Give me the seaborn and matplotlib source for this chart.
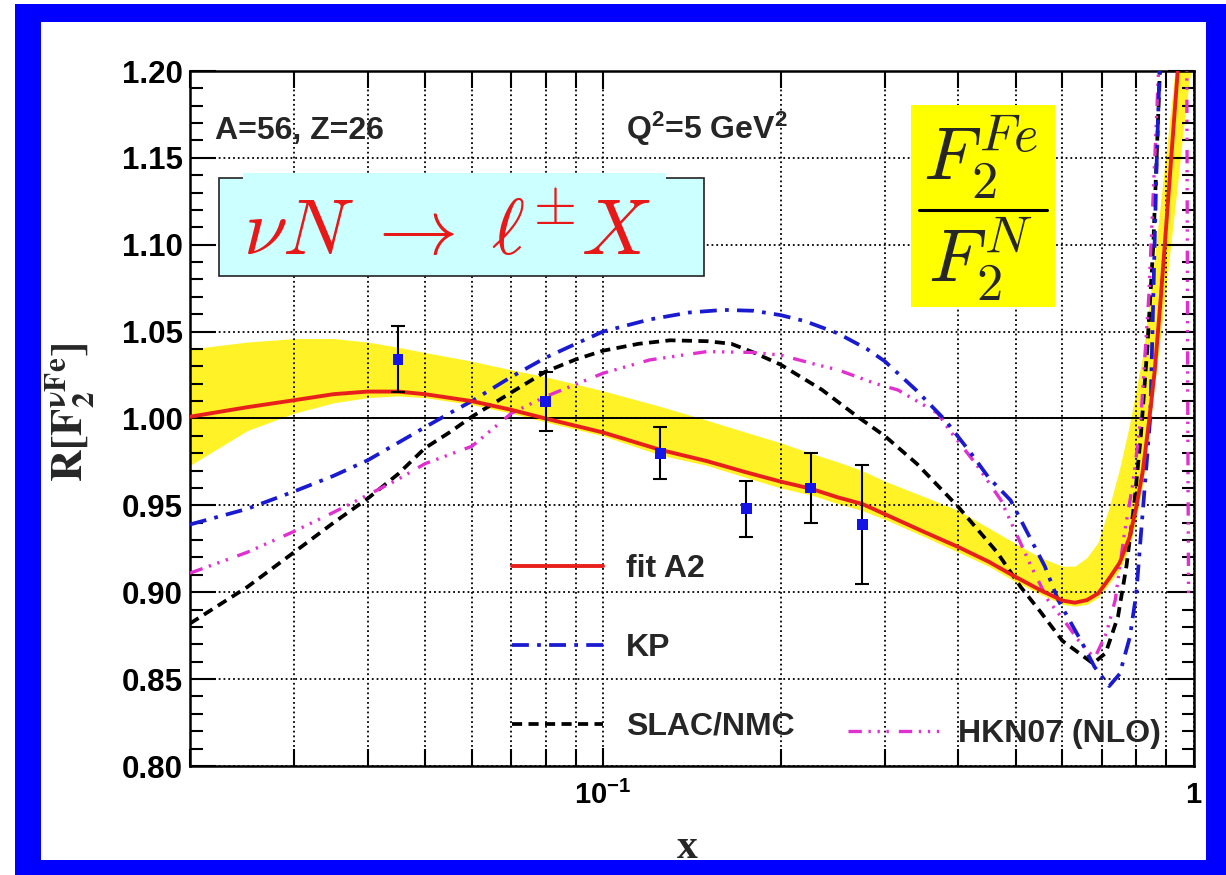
import numpy as np
import pandas as pd
import matplotlib
matplotlib.use("Agg")
import matplotlib.pyplot as plt
import seaborn as sns
from matplotlib.patches import Rectangle
from matplotlib.lines import Line2D
from matplotlib.ticker import (MultipleLocator, FixedLocator, FixedFormatter,
                               LogLocator, NullFormatter, FormatStrFormatter)

# ---------------- data ----------------
x_fit = [0.02, 0.025, 0.03, 0.035, 0.04, 0.045, 0.05, 0.06, 0.07, 0.08, 0.1, 0.125,
         0.15, 0.175, 0.2, 0.225, 0.25, 0.275, 0.3, 0.35, 0.4, 0.45, 0.5, 0.55, 0.6,
         0.63, 0.66, 0.69, 0.72, 0.75, 0.78, 0.8, 0.82, 0.84, 0.86, 0.88, 0.9, 0.92,
         0.94, 0.96, 0.98, 1.0]
y_fit = [1.001, 1.0065, 1.0105, 1.014, 1.0155, 1.0155, 1.014, 1.010, 1.005, 1.000,
         0.992, 0.982, 0.9755, 0.969, 0.9637, 0.9596, 0.9546, 0.9508, 0.945, 0.9347,
         0.926, 0.9176, 0.9088, 0.9013, 0.8952, 0.894, 0.8955, 0.8994, 0.908, 0.917,
         0.932, 0.949, 0.969, 0.997, 1.028, 1.069, 1.113, 1.157, 1.199, 1.24, 1.28, 1.32]
band_hi = [1.040, 1.044, 1.046, 1.046, 1.044, 1.041, 1.038, 1.033, 1.028, 1.024,
           1.016, 1.007, 0.999, 0.992, 0.986, 0.980, 0.975, 0.970, 0.964, 0.955,
           0.947, 0.937, 0.928, 0.920, 0.915, 0.915, 0.920, 0.929, 0.949, 0.9715,
           0.997, 1.017, 1.036, 1.063, 1.094, 1.125, 1.155, 1.185, 1.215, 1.25, 1.29, 1.33]
band_lo = [0.973, 0.993, 1.003, 1.009, 1.012, 1.013, 1.012, 1.008, 1.003, 0.998,
           0.990, 0.979, 0.973, 0.966, 0.960, 0.956, 0.951, 0.947, 0.942, 0.932,
           0.923, 0.915, 0.906, 0.899, 0.893, 0.892, 0.893, 0.897, 0.905, 0.913,
           0.926, 0.942, 0.962, 0.990, 1.020, 1.049, 1.078, 1.107, 1.135, 1.165, 1.19, 1.21]

x_kp = [0.02, 0.025, 0.03, 0.035, 0.04, 0.045, 0.05, 0.055, 0.06, 0.07, 0.08, 0.09,
        0.1, 0.12, 0.14, 0.16, 0.18, 0.2, 0.22, 0.25, 0.28, 0.3, 0.34, 0.38, 0.42,
        0.45, 0.49, 0.56, 0.59, 0.645, 0.68, 0.72, 0.75, 0.78, 0.8, 0.815, 0.832,
        0.845, 0.855, 0.865, 0.876, 0.89]
y_kp = [0.939, 0.948, 0.958, 0.967, 0.976, 0.986, 0.995, 1.003, 1.010, 1.024, 1.035,
        1.043, 1.050, 1.057, 1.061, 1.0625, 1.062, 1.0595, 1.056, 1.049, 1.040, 1.033,
        1.016, 0.999, 0.980, 0.966, 0.953, 0.915, 0.8955, 0.872, 0.857, 0.846, 0.853,
        0.874, 0.899, 0.934, 0.972, 1.001, 1.07, 1.14, 1.2, 1.28]

x_slac = [0.02, 0.025, 0.03, 0.035, 0.04, 0.045, 0.05, 0.055, 0.06, 0.07, 0.08, 0.09,
          0.1, 0.115, 0.13, 0.15, 0.165, 0.18, 0.2, 0.235, 0.27, 0.3, 0.34, 0.4,
          0.465, 0.51, 0.55, 0.6, 0.64, 0.676, 0.71, 0.745, 0.77, 0.795, 0.815,
          0.835, 0.855, 0.875, 0.89]
y_slac = [0.882, 0.903, 0.923, 0.940, 0.954, 0.968, 0.983, 0.992, 1.001, 1.015, 1.027,
          1.034, 1.039, 1.043, 1.045, 1.0445, 1.043, 1.038, 1.031, 1.0165, 1.001,
          0.990, 0.974, 0.949, 0.923, 0.903, 0.889, 0.872, 0.865, 0.859, 0.865, 0.886,
          0.915, 0.953, 0.9915, 1.04, 1.10, 1.19, 1.26]

x_hkn = [0.02, 0.025, 0.03, 0.035, 0.04, 0.045, 0.05, 0.06, 0.07, 0.08, 0.1, 0.12,
         0.15, 0.18, 0.2, 0.23, 0.25, 0.29, 0.316, 0.369, 0.386, 0.43, 0.472, 0.531,
         0.567, 0.6, 0.638, 0.68, 0.712, 0.737, 0.764, 0.79, 0.815, 0.84, 0.86,
         0.875, 0.92, 0.95, 0.974, 0.978, 0.981]
y_hkn = [0.911, 0.923, 0.935, 0.946, 0.956, 0.965, 0.974, 0.984, 1.003, 1.0126,
         1.026, 1.0337, 1.0385, 1.038, 1.0365, 1.031, 1.028, 1.020, 1.0164, 1.003,
         0.9934, 0.973, 0.953, 0.915, 0.8955, 0.885, 0.8725, 0.862, 0.8764, 0.8955,
         0.934, 0.963, 1.001, 1.07, 1.15, 1.21, 1.45, 1.45, 1.22, 1.0, 0.895]

x_data = [0.045, 0.08, 0.125, 0.175, 0.225, 0.275]
y_data = [1.034, 1.010, 0.980, 0.948, 0.960, 0.939]
y_err = [0.019, 0.017, 0.015, 0.016, 0.020, 0.034]

y_ticks = [0.80, 0.85, 0.90, 0.95, 1.00, 1.05, 1.10, 1.15, 1.20]
x_ticks = [0.1, 1.0]
x_ticklabels = ["10$^{-1}$", "1"]
legend_labels = ["fit A2", "KP", "SLAC/NMC", "HKN07 (NLO)"]

# ---------------- style ----------------
sns.set_style("ticks")
plt.rcParams["font.family"] = ["Liberation Sans", "DejaVu Sans"]
plt.rcParams["font.weight"] = "bold"
plt.rcParams["mathtext.fontset"] = "custom"
plt.rcParams["mathtext.rm"] = "Liberation Sans:bold"
plt.rcParams["mathtext.bf"] = "Liberation Sans:bold"
plt.rcParams["mathtext.it"] = "Liberation Sans:italic:bold"

W, H = 1226, 875
fig = plt.figure(figsize=(W / 100, H / 100), dpi=100, facecolor="white")


def fx(px):
    return px / W


def fy(py):
    return 1 - py / H


# blue frame
fig.add_artist(Rectangle((fx(15), fy(875)), fx(1226) - fx(15), fy(4) - fy(875),
                         transform=fig.transFigure, facecolor="#0000ff",
                         edgecolor="none", zorder=-20))
fig.add_artist(Rectangle((fx(41), fy(860)), fx(1206) - fx(41), fy(22) - fy(860),
                         transform=fig.transFigure, facecolor="white",
                         edgecolor="none", zorder=-19))

ax = fig.add_axes([fx(190), fy(766), fx(1193.5) - fx(190), fy(71) - fy(766)])
ax.set_facecolor("white")
ax.set_xscale("log")

RED = "#e8201c"
BLUE = "#1a1ad0"
MAG = "#e030d0"
YEL = "#fff227"

ax.fill_between(x_fit, band_lo, band_hi, color=YEL, lw=0, zorder=1)
ax.axhline(1.0, color="k", lw=1.4, zorder=1.6)

sns.lineplot(x=x_slac, y=y_slac, ax=ax, color="k", lw=2.7, sort=False,
             estimator=None, linestyle=(0, (2.7, 1.7)), zorder=3,
             label=legend_labels[2], legend=False)
h_slac = ax.lines[-1]
sns.lineplot(x=x_hkn, y=y_hkn, ax=ax, color=MAG, lw=2.4, sort=False,
             estimator=None, linestyle=(0, (4, 2, 0.7, 2, 0.7, 2, 0.7, 3)),
             zorder=3, label=legend_labels[3], legend=False)
h_hkn = ax.lines[-1]
sns.lineplot(x=x_kp, y=y_kp, ax=ax, color=BLUE, lw=2.7, sort=False,
             estimator=None, linestyle=(0, (4.5, 2.2, 1, 2.2)), zorder=3,
             label=legend_labels[1], legend=False)
h_kp = ax.lines[-1]
sns.lineplot(x=x_fit, y=y_fit, ax=ax, color=RED, lw=2.8, sort=False,
             estimator=None, zorder=3.5, label=legend_labels[0], legend=False)
h_fit = ax.lines[-1]

ax.errorbar(x_data, y_data, yerr=y_err, fmt="none", ecolor="k", elinewidth=1.5,
            capsize=5, capthick=1.5, zorder=4.5)
sns.scatterplot(x=x_data, y=y_data, ax=ax, marker="s", s=62, color="#1414e6",
                edgecolor="none", zorder=5, legend=False)

ax.set_xlim(0.02, 1.0)
ax.set_ylim(0.8, 1.2)

ax.yaxis.set_major_locator(FixedLocator(y_ticks))
ax.yaxis.set_major_formatter(FormatStrFormatter("%.2f"))
ax.yaxis.set_minor_locator(MultipleLocator(0.01))
ax.xaxis.set_major_locator(FixedLocator(x_ticks))
ax.xaxis.set_major_formatter(FixedFormatter(x_ticklabels))
ax.xaxis.set_minor_locator(LogLocator(base=10, subs=np.arange(2, 10)))
ax.xaxis.set_minor_formatter(NullFormatter())

ax.set_axisbelow("line")
ax.grid(True, which="both", axis="x", color="k", ls=":", lw=1.3)
ax.grid(True, which="major", axis="y", color="k", ls=":", lw=1.3)

ax.tick_params(which="both", direction="in", top=True, right=True, width=1.5,
               colors="k")
ax.tick_params(axis="y", which="major", length=19, labelsize=22.5, pad=5)
ax.tick_params(axis="y", which="minor", length=9)
ax.tick_params(axis="x", which="major", length=13, labelsize=21, pad=11)
ax.tick_params(axis="x", which="minor", length=12)
for sp in ax.spines.values():
    sp.set_linewidth(1.8)
    sp.set_color("k")
ax.set_xlabel("")
ax.set_ylabel("")

# legends
if ax.get_legend() is not None:
    ax.get_legend().remove()
leg1 = ax.legend(handles=[h_fit, h_kp, h_slac], labels=legend_labels[:3],
                 loc="upper left", bbox_to_anchor=(fx(512), fy(554)),
                 bbox_transform=fig.transFigure, frameon=False, fontsize=23,
                 handlelength=2.85, handletextpad=0.72, labelspacing=1.53,
                 borderpad=0, borderaxespad=0)
ax.add_artist(leg1)
leg2 = ax.legend(handles=[h_hkn], labels=legend_labels[3:],
                 loc="upper left", bbox_to_anchor=(fx(848), fy(719)),
                 bbox_transform=fig.transFigure, frameon=False, fontsize=23,
                 handlelength=3.1, handletextpad=0.35, borderpad=0,
                 borderaxespad=0)

# annotations
fig.text(fx(215), fy(139), "A=56, Z=26", fontsize=23, fontweight="bold",
         ha="left", va="baseline")
fig.text(fx(626), fy(139), "Q$^2$=5 GeV$^2$", fontsize=23, fontweight="bold",
         ha="left", va="baseline")

# cyan box
fig.add_artist(Rectangle((fx(219), fy(276)), fx(704) - fx(219), fy(178) - fy(276),
                         transform=fig.transFigure, facecolor="#ccffff",
                         edgecolor="#222222", lw=1.2, zorder=5))
fig.add_artist(Rectangle((fx(243), fy(181)), fx(666) - fx(243), fy(173) - fy(181),
                         transform=fig.transFigure, facecolor="#ccffff",
                         edgecolor="none", zorder=5.1))
fig.text(fx(447), fy(255), r"$\nu N \;\rightarrow\; \ell^{\pm} X$", color="#e81818",
         fontsize=57, ha="center", va="baseline", math_fontfamily="cm", zorder=6)

# yellow box with ratio
fig.add_artist(Rectangle((fx(911), fy(307)), fx(1055) - fx(911), fy(105) - fy(307),
                         transform=fig.transFigure, facecolor="#ffff00",
                         edgecolor="none", zorder=5))
fig.text(fx(981), fy(180), r"$F_2^{Fe}$", fontsize=54, ha="center",
         va="baseline", math_fontfamily="cm", zorder=6)
fig.text(fx(981), fy(282), r"$F_2^{N}$", fontsize=54, ha="center",
         va="baseline", math_fontfamily="cm", zorder=6)
fig.add_artist(Line2D([fx(919), fx(1047)], [fy(210), fy(210)], color="k", lw=2.2,
                      transform=fig.transFigure, zorder=6))

# axis titles
fig.text(fx(70), fy(412), r"$\mathbf{R[F_2^{\nu Fe}]}$", fontsize=32,
         rotation=90, ha="center", va="center", math_fontfamily="stix")
fig.text(fx(687), fy(848), "x", fontsize=30, fontweight="bold",
         family="Liberation Serif", ha="center", va="center")

fig.savefig("out.png", dpi=100, facecolor="white")
